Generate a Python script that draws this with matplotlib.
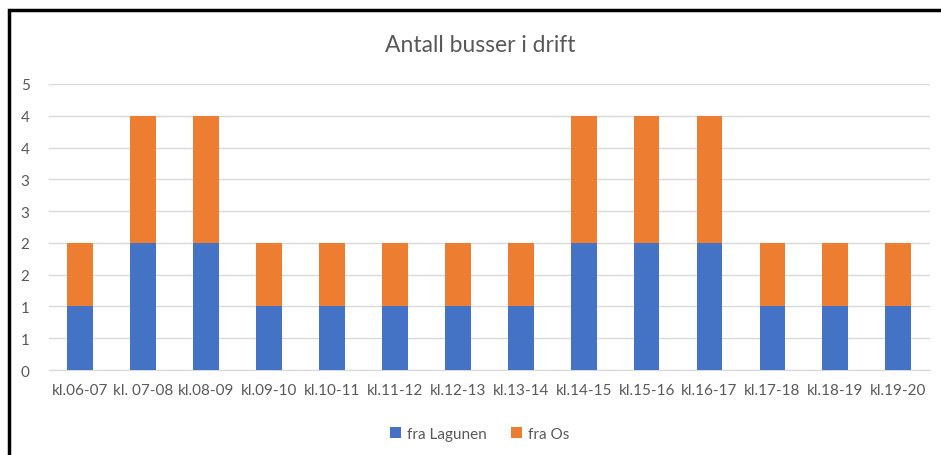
import matplotlib.pyplot as plt
from matplotlib.patches import Rectangle
from matplotlib.ticker import FuncFormatter, MultipleLocator
import numpy as np

categories = ['kl.06-07', 'kl. 07-08', 'kl.08-09', 'kl.09-10', 'kl.10-11', 'kl.11-12', 'kl.12-13',
              'kl.13-14', 'kl.14-15', 'kl.15-16', 'kl.16-17', 'kl.17-18', 'kl.18-19', 'kl.19-20']
fra_lagunen = [1, 2, 2, 1, 1, 1, 1, 1, 2, 2, 2, 1, 1, 1]
fra_os = [1, 2, 2, 1, 1, 1, 1, 1, 2, 2, 2, 1, 1, 1]

plt.rcParams['font.family'] = ['Lato', 'DejaVu Sans']

fig = plt.figure(figsize=(9.41, 4.56), dpi=100)
ax = fig.add_axes([0.052, 0.1864, 0.936, 0.6272])

x = np.arange(len(categories))
ax.bar(x, fra_lagunen, width=0.41, color='#4472C4', label='fra Lagunen', zorder=3)
ax.bar(x, fra_os, width=0.41, bottom=fra_lagunen, color='#ED7D31', label='fra Os', zorder=3)

ax.set_xlim(-0.5, len(categories) - 0.5)
ax.set_ylim(0, 4.5)
ax.yaxis.set_major_locator(MultipleLocator(0.5))
# excel viser tall uten desimaler, 0.5 rundes opp
ax.yaxis.set_major_formatter(FuncFormatter(lambda v, p: str(int(v + 0.5))))
ax.set_xticks(x)
ax.set_xticklabels(categories)
ax.tick_params(axis='both', length=0, colors='#595959', labelsize=11)
ax.tick_params(axis='x', pad=9)
ax.tick_params(axis='y', pad=14)
ax.grid(axis='y', color='#D9D9D9', linewidth=1, zorder=0)
for s in ['top', 'right', 'left']:
    ax.spines[s].set_visible(False)
ax.spines['bottom'].set_color('#D9D9D9')

fig.text(0.51, 0.9, 'Antall busser i drift', ha='center', va='center', fontsize=16.5, color='#595959')
fig.legend(loc='center', bbox_to_anchor=(0.51, 0.047), ncol=2, frameon=False, fontsize=11,
           handlelength=0.7, handleheight=0.7, handletextpad=0.4, columnspacing=1.6, labelcolor='#595959')

# svart ramme rundt diagrammet
fig.patches.append(Rectangle((9 / 941, -0.1), 1.2, 1.1 - 11 / 456, transform=fig.transFigure,
                             fill=False, edgecolor='black', linewidth=2.5))

fig.savefig('out.png', dpi=100)
